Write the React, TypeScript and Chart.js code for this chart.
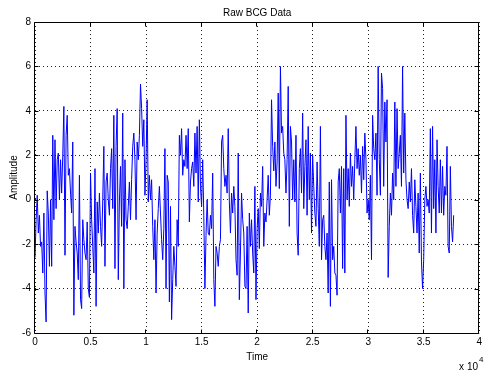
import { useEffect, useRef } from "react";
import { Chart, registerables } from "chart.js";

Chart.register(...registerables);

// Sampling interval of the recorded signal (time units)
const SAMPLE_STEP = 100;

// Raw BCG amplitude samples, 10 per 1000 time units
const amplitude: number[] = [
  -2.6, -0.9, 0.2, -1.5, -0.7, -2.1, -1.9, -3.3, -0.6, -4.2,
  -5.5, 0.4, -0.6, -3.0, 0.0, -3.0, 2.9, -0.9, 2.7, -0.4,
  1.8, 2.1, 0.0, 1.8, 0.3, 2.0, 4.2, -2.5, 2.9, 3.8,
  1.1, 1.4, 0.3, -0.6, 2.6, -5.2, -1.2, -1.9, -2.4, -3.6,
  1.1, -4.5, -4.9, -0.9, -1.8, -2.4, -2.7, -1.0, -4.0, -4.4,
  1.2, -0.9, -2.1, -3.3, 1.4, -4.8, -0.1, -1.5, 0.3, -1.2,
  -2.1, 0.0, 2.4, -3.0, 0.8, 1.2, 0.0, -0.7, 1.4, 2.3,
  -0.4, 3.8, -3.1, 2.4, 4.1, -3.6, -0.1, 1.5, -1.2, 3.9,
  -4.0, 1.8, -0.9, -1.3, -0.3, 0.8, -0.9, 0.9, 2.4, 3.0,
  1.8, -0.9, 2.6, 1.8, 2.9, 5.2, 4.1, 2.4, 3.6, 0.2,
  1.8, 4.5, -0.1, 1.1, 0.0, 0.9, -1.2, -2.7, -0.9, -4.2,
  -1.5, -0.4, 0.6, -0.6, -1.8, -2.7, -1.3, 2.3, -4.0, 1.1,
  0.8, -4.6, -0.3, -5.4, -3.6, -2.1, -3.0, -3.9, -0.9, -2.1,
  2.9, 2.0, 3.2, 1.1, 1.8, 1.5, 2.9, 1.4, 3.2, -1.0,
  0.8, 1.4, 1.7, 0.6, 3.0, 1.2, 3.3, -0.1, 3.6, 0.6,
  -0.3, 1.8, -0.7, -4.0, -1.6, 0.0, -1.5, -1.6, -0.7, -1.3,
  1.2, -3.6, -4.8, -2.1, -2.4, -3.0, -2.1, -1.8, 2.6, 2.9,
  1.4, 0.6, 1.1, 0.3, 3.2, -0.1, -1.5, 0.3, -0.6, 0.6,
  -0.3, -2.7, -3.4, 2.1, -4.5, -2.4, 0.3, -0.9, -1.5, -3.9,
  -4.0, -1.2, -5.1, -0.6, -2.1, -0.9, -2.4, -3.3, 0.6, -4.5,
  -1.3, -0.4, -2.2, 0.3, -0.3, 1.5, -2.1, -0.6, -1.0, 0.0,
  1.1, -0.7, 0.2, 4.5, 2.4, 1.3, 2.6, 0.6, 1.7, 4.8,
  0.5, 6.0, 3.0, 3.3, 2.1, 1.8, 0.3, 1.8, 5.1, -1.2,
  3.3, 2.6, 0.0, 1.8, -0.1, 2.9, -1.5, -2.5, 1.4, 2.3,
  0.3, 3.9, -0.4, 1.5, 2.7, -0.7, 3.3, 0.0, 2.1, -1.5,
  2.0, 0.6, -0.6, -1.2, 1.7, -0.4, -2.1, 3.3, -2.7, -0.9,
  -0.7, -2.1, -2.7, -1.5, -4.2, 0.8, -4.8, 0.9, -2.7, -2.1,
  -3.3, -3.4, -4.3, 0.8, 1.4, -0.6, 1.5, -3.1, 1.4, -3.3,
  3.8, 0.0, 1.4, -0.3, 2.1, 0.6, 1.5, 0.0, 1.8, 3.3,
  1.4, 2.3, 1.1, 2.0, 0.3, 2.4, 0.9, 3.0, 1.8, -0.6,
  0.0, -0.9, 1.1, -2.7, 3.8, 2.3, 1.8, 3.0, 0.2, 6.0,
  1.8, 0.2, 5.7, 5.0, 0.6, 4.4, 2.6, 4.5, -3.5, -1.2,
  0.3, -0.7, 1.2, 0.0, 4.4, 0.6, 4.1, 1.4, 2.1, 2.9,
  0.6, 6.0, 1.2, 3.9, 0.9, 0.0, -0.4, 0.8, -0.1, 1.4,
  -0.7, -1.5, 0.9, -0.3, -1.5, 0.3, -2.4, 1.2, -2.8, -4.0,
  -2.7, 0.0, 0.6, -0.3, 0.0, -0.6, 3.2, -1.5, 3.3, -0.4,
  1.8, -1.5, 2.7, 0.6, -0.6, 1.8, -0.6, 1.5, -0.7, 0.6,
  0.2, 2.4, -2.1, -2.4, 1.5, -1.2, -1.9, -0.7,
];

const yTicks = [-6, -4, -2, 0, 2, 4, 6, 8];
const xTicks = [0, 5000, 10000, 15000, 20000, 25000, 30000, 35000, 40000];
const X_EXPONENT = 4;

const TITLE = "Raw BCG Data";
const X_LABEL = "Time";
const Y_LABEL = "Amplitude";

const FONT = '"Liberation Sans", Arial, Helvetica, sans-serif';

const decorPlugin = {
  id: "matlabDecor",
  afterDraw(chart: any) {
    const { ctx, chartArea } = chart;
    const { left, right, top, bottom } = chartArea;
    const xs = chart.scales.x;
    const ys = chart.scales.y;
    ctx.save();
    ctx.strokeStyle = "#000";
    ctx.lineWidth = 1;
    const L = Math.round(left) - 0.5;
    const R = Math.round(right) - 0.5;
    const T = Math.round(top) + 0.5;
    const B = Math.round(bottom) + 0.5;
    ctx.beginPath();
    ctx.rect(L, T, R - L, B - T);
    ctx.stroke();
    const tl = 4;
    ctx.beginPath();
    xTicks.forEach((v) => {
      const p = Math.round(xs.getPixelForValue(v)) - 0.5;
      ctx.moveTo(p, B);
      ctx.lineTo(p, B - tl);
      ctx.moveTo(p, T);
      ctx.lineTo(p, T + tl);
    });
    yTicks.forEach((v) => {
      const p = Math.round(ys.getPixelForValue(v)) + 0.5;
      ctx.moveTo(L, p);
      ctx.lineTo(L + tl, p);
      ctx.moveTo(R, p);
      ctx.lineTo(R - tl, p);
    });
    ctx.stroke();

    ctx.fillStyle = "#000";
    ctx.font = `10px ${FONT}`;
    ctx.textAlign = "center";
    ctx.textBaseline = "middle";
    const cx = (left + right) / 2;
    ctx.fillText(TITLE, cx, 13);
    ctx.fillText(X_LABEL, cx, 357);
    ctx.save();
    ctx.translate(14, (top + bottom) / 2);
    ctx.rotate(-Math.PI / 2);
    ctx.fillText(Y_LABEL, 0, 0);
    ctx.restore();

    ctx.textAlign = "right";
    ctx.textBaseline = "alphabetic";
    ctx.fillText("x 10", 478, 370);
    ctx.font = `8px ${FONT}`;
    ctx.textAlign = "left";
    ctx.fillText(String(X_EXPONENT), 479, 362);
    ctx.restore();
  },
};

export default function App() {
  const canvasRef = useRef<HTMLCanvasElement | null>(null);

  useEffect(() => {
    const canvas = canvasRef.current;
    if (!canvas) return;
    const points = amplitude.map((v, i) => ({ x: i * SAMPLE_STEP, y: v }));
    const chart = new Chart(canvas, {
      type: "line",
      data: {
        datasets: [
          {
            data: points,
            borderColor: "#0000ff",
            borderWidth: 1,
            pointRadius: 0,
            tension: 0,
            fill: false,
          },
        ],
      },
      options: {
        animation: false,
        responsive: false,
        maintainAspectRatio: false,
        devicePixelRatio: 1,
        layout: { padding: { top: 22, right: 2, left: 0, bottom: 0 } },
        plugins: {
          legend: { display: false },
          title: { display: false },
          tooltip: { enabled: false },
        },
        scales: {
          x: {
            type: "linear",
            min: 0,
            max: 40000,
            afterBuildTicks: (scale: any) => {
              scale.ticks = xTicks.map((v) => ({ value: v }));
            },
            afterFit: (scale: any) => {
              scale.height = 43;
            },
            ticks: {
              color: "#000",
              font: { family: FONT, size: 10 },
              padding: 3,
              maxRotation: 0,
              autoSkip: false,
              callback: (v: any) => String(Number(v) / Math.pow(10, X_EXPONENT)),
            },
            grid: {
              color: "#222",
              lineWidth: 1,
              drawTicks: false,
              tickLength: 0,
            },
            border: { display: false, dash: [1, 3] },
          },
          y: {
            type: "linear",
            min: -6,
            max: 8,
            afterBuildTicks: (scale: any) => {
              scale.ticks = yTicks.map((v) => ({ value: v }));
            },
            afterFit: (scale: any) => {
              scale.width = 35;
            },
            ticks: {
              color: "#000",
              font: { family: FONT, size: 10 },
              padding: 4,
              autoSkip: false,
            },
            grid: {
              color: "#222",
              lineWidth: 1,
              drawTicks: false,
              tickLength: 0,
            },
            border: { display: false, dash: [1, 3] },
          },
        },
      },
      plugins: [decorPlugin],
    });
    return () => chart.destroy();
  }, []);

  return (
    <div style={{ position: "fixed", left: 0, top: 0, width: 485, height: 376, background: "#fff" }}>
      <canvas ref={canvasRef} width={485} height={376} />
    </div>
  );
}
